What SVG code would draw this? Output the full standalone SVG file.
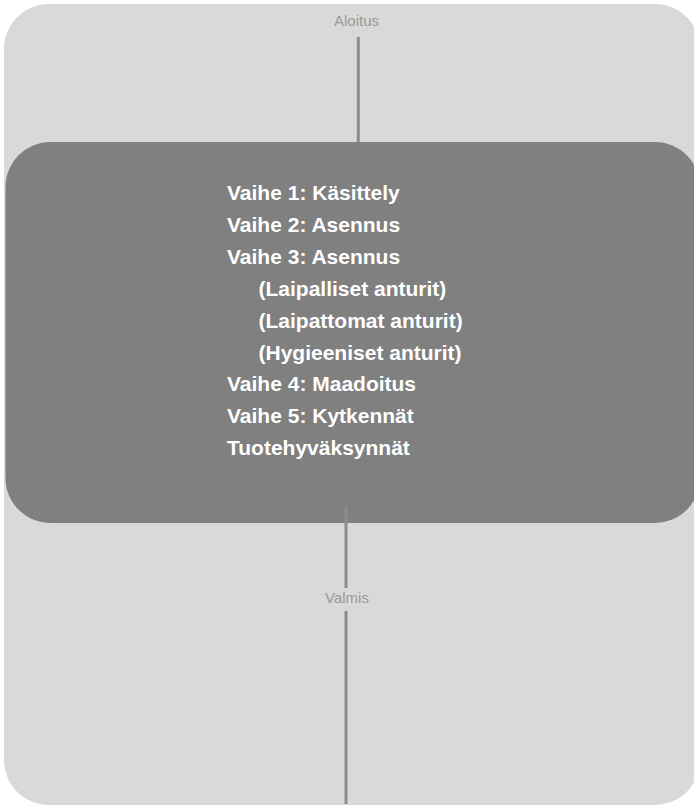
<svg xmlns="http://www.w3.org/2000/svg" width="694" height="806" viewBox="0 0 694 806">
<style>
.lbl{font-family:"Liberation Sans",Arial,sans-serif;font-size:15px;fill:#9a9a9a;text-anchor:middle}
.item{font-family:"Liberation Sans",Arial,sans-serif;font-size:21px;font-weight:bold;fill:#ffffff}
.conn{stroke:#8c8c8c;stroke-width:3;fill:none}
</style>
<rect width="694" height="806" fill="#ffffff"/>
<g id="container">
<rect x="4" y="4" width="696" height="801" rx="45" ry="45" fill="#d9d9d9"/>
</g>
<g id="start">
<text class="lbl" x="356.5" y="25.5">Aloitus</text>
</g>
<g id="steps">
<rect x="5.5" y="142" width="694.5" height="381" rx="45" ry="45" fill="#808080"/>
<text class="item" x="227" y="200">Vaihe 1: Käsittely</text>
<text class="item" x="227" y="231.9">Vaihe 2: Asennus</text>
<text class="item" x="227" y="263.8">Vaihe 3: Asennus</text>
<text class="item" x="258.5" y="295.7">(Laipalliset anturit)</text>
<text class="item" x="258.5" y="327.6">(Laipattomat anturit)</text>
<text class="item" x="258.5" y="359.5">(Hygieeniset anturit)</text>
<text class="item" x="227" y="391.4">Vaihe 4: Maadoitus</text>
<text class="item" x="227" y="423.3">Vaihe 5: Kytkennät</text>
<text class="item" x="227" y="455.2">Tuotehyväksynnät</text>
</g>
<g id="end">
<text class="lbl" x="347" y="603">Valmis</text>
</g>
<g id="connectors">
<line class="conn" x1="358.3" y1="37" x2="358.3" y2="142"/>
<line class="conn" x1="346" y1="507" x2="346" y2="588"/>
<line class="conn" x1="346" y1="611" x2="346" y2="804"/>
</g>
</svg>
